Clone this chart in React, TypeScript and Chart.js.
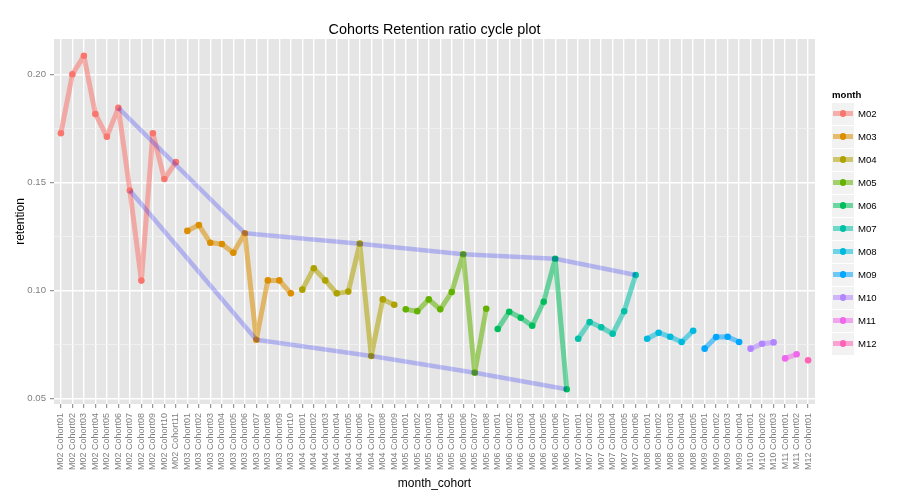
import React, { useEffect, useRef } from "react";
import { Chart, registerables } from "chart.js";

Chart.register(...registerables);

const months = ["M02", "M03", "M04", "M05", "M06", "M07", "M08", "M09", "M10", "M11", "M12"];
const cohorts = [
  "Cohort01", "Cohort02", "Cohort03", "Cohort04", "Cohort05", "Cohort06",
  "Cohort07", "Cohort08", "Cohort09", "Cohort10", "Cohort11",
];

// retention per month, one value per cohort
const m02 = [0.1727, 0.2, 0.2085, 0.1816, 0.1711, 0.1844, 0.1462, 0.1045, 0.1727, 0.1515, 0.1593];
const m03 = [0.1275, 0.1302, 0.122, 0.1214, 0.1174, 0.1264, 0.0771, 0.1046, 0.1046, 0.0986];
const m04 = [0.1003, 0.1102, 0.1046, 0.0986, 0.0994, 0.1216, 0.0696, 0.0958, 0.0933];
const m05 = [0.0912, 0.0903, 0.0958, 0.0912, 0.0992, 0.1167, 0.0619, 0.0915];
const m06 = [0.0821, 0.0901, 0.0873, 0.0836, 0.0947, 0.1146, 0.0542];
const m07 = [0.0776, 0.0853, 0.0829, 0.0799, 0.0903, 0.1071];
const m08 = [0.0776, 0.0804, 0.0785, 0.0761, 0.0813];
const m09 = [0.073, 0.0784, 0.0785, 0.0761];
const m10 = [0.073, 0.0753, 0.0759];
const m11 = [0.0685, 0.0704];
const m12 = [0.0676];

const series = [m02, m03, m04, m05, m06, m07, m08, m09, m10, m11, m12];
const colors = [
  "#F8766D", "#DB8E00", "#AEA200", "#64B200", "#00BD5C", "#00C1A7",
  "#00BADE", "#00A6FF", "#B385FF", "#EF67EB", "#FF63B6",
];
const cycleCohorts = ["Cohort06", "Cohort07"];
const yMajor = [0.05, 0.1, 0.15, 0.2];

const FONT = "'Liberation Sans', Arial, Helvetica, sans-serif";

// x labels built from months x cohorts
const labels: string[] = [];
const starts: number[] = [];
series.forEach((s, i) => {
  starts.push(labels.length);
  s.forEach((_, j) => labels.push(`${months[i]} ${cohorts[j]}`));
});

const rgba = (hex: string, a: number) => {
  const n = parseInt(hex.slice(1), 16);
  return `rgba(${(n >> 16) & 255},${(n >> 8) & 255},${n & 255},${a})`;
};

const isMajor = (v: number) => yMajor.some((t) => Math.abs(t - v) < 1e-6);

const panelBg = {
  id: "panelBg",
  beforeDraw(chart: any) {
    const { ctx, chartArea } = chart;
    ctx.save();
    ctx.fillStyle = "#E5E5E5";
    ctx.fillRect(chartArea.left, chartArea.top, chartArea.width, chartArea.height);
    ctx.restore();
  },
};

const App: React.FC = () => {
  const chartRef = useRef<HTMLCanvasElement>(null);

  useEffect(() => {
    if (!chartRef.current) return;
    const ctx = chartRef.current.getContext("2d");
    if (!ctx) return;

    const monthSets = series.map((s, i) => ({
      label: months[i],
      data: s.map((v, j) => ({ x: starts[i] + j, y: v })),
      borderColor: rgba(colors[i], 0.55),
      borderWidth: 5,
      borderJoinStyle: "round",
      borderCapStyle: "round",
      pointRadius: 3.3,
      pointBackgroundColor: colors[i],
      pointBorderWidth: 0,
      tension: 0,
      order: 1,
    }));

    const cycleSets = cycleCohorts.map((c) => {
      const k = cohorts.indexOf(c);
      const pts = series.flatMap((s, i) => (s.length > k ? [{ x: starts[i] + k, y: s[k] }] : []));
      return {
        label: c,
        data: pts,
        borderColor: "rgba(0,0,255,0.22)",
        borderWidth: 4.5,
        borderJoinStyle: "round",
        borderCapStyle: "butt",
        pointRadius: 0,
        tension: 0,
        order: 0,
      };
    });

    const myChart = new Chart(ctx, {
      type: "line",
      data: { datasets: [...monthSets, ...cycleSets] as any },
      plugins: [panelBg],
      options: {
        animation: false,
        responsive: true,
        maintainAspectRatio: false,
        events: [],
        layout: { padding: { top: 0, left: 0, right: 97, bottom: 0 } },
        plugins: {
          legend: { display: false },
          tooltip: { enabled: false },
          title: {
            display: true,
            text: "Cohorts Retention ratio cycle plot",
            fullSize: false,
            color: "#000",
            font: { family: FONT, size: 14.4, weight: "normal" },
            padding: { top: 21.4, bottom: 0.3 },
          },
        },
        scales: {
          x: {
            type: "linear",
            min: -0.6,
            max: 65.6,
            afterFit: (scale: any) => {
              scale.height = 98;
            },
            ticks: {
              stepSize: 1,
              includeBounds: false,
              autoSkip: false,
              minRotation: 90,
              maxRotation: 90,
              padding: 5,
              color: "#7F7F7F",
              font: { family: FONT, size: 9 },
              callback: (v: any) => labels[Math.round(Number(v))] ?? "",
            },
            grid: {
              color: "#FFFFFF",
              lineWidth: 1.4,
              tickLength: 4,
              tickColor: "#7F7F7F",
              tickWidth: 1,
            },
            border: { display: false },
            title: {
              display: true,
              text: "month_cohort",
              color: "#000",
              font: { family: FONT, size: 12 },
              padding: { top: 0, bottom: 11 },
            },
          },
          y: {
            type: "linear",
            min: 0.0474,
            max: 0.2163,
            afterFit: (scale: any) => {
              scale.width = 54;
            },
            ticks: {
              stepSize: 0.025,
              includeBounds: false,
              padding: 4,
              color: "#7F7F7F",
              font: { family: FONT, size: 9.6 },
              callback: (v: any) => (isMajor(Number(v)) ? Number(v).toFixed(2) : ""),
            },
            grid: {
              color: (c: any) => (c.tick && isMajor(c.tick.value) ? "#FFFFFF" : "#F2F2F2"),
              lineWidth: (c: any) => (c.tick && isMajor(c.tick.value) ? 1.4 : 0.8),
              tickLength: 4,
              tickColor: (c: any) => (c.tick && isMajor(c.tick.value) ? "#7F7F7F" : "rgba(0,0,0,0)"),
              tickWidth: 1,
            },
            border: { display: false },
            title: {
              display: true,
              text: "retention",
              color: "#000",
              font: { family: FONT, size: 12 },
              padding: { top: 13, bottom: 0 },
            },
          },
        },
      } as any,
    });

    return () => {
      myChart.destroy();
    };
  }, []);

  return (
    <div style={{ position: "fixed", left: 0, top: 0, width: 912, height: 502, background: "#fff" }}>
      <canvas ref={chartRef} />
      <div style={{ position: "absolute", left: 832, top: 86.5, fontFamily: FONT }}>
        <div style={{ fontSize: 9.6, fontWeight: "bold", lineHeight: "16px", height: 16 }}>month</div>
        {months.map((m, i) => (
          <div key={m} style={{ display: "flex", alignItems: "center", height: 22, marginBottom: 1 }}>
            <div style={{ position: "relative", width: 22, height: 22, background: "#F2F2F2" }}>
              <div
                style={{
                  position: "absolute",
                  left: 1,
                  right: 1,
                  top: 8.5,
                  height: 5,
                  background: rgba(colors[i], 0.55),
                }}
              />
              <div
                style={{
                  position: "absolute",
                  left: 7.7,
                  top: 7.7,
                  width: 6.6,
                  height: 6.6,
                  borderRadius: "50%",
                  background: colors[i],
                }}
              />
            </div>
            <span style={{ marginLeft: 4, fontSize: 9.6, color: "#000" }}>{m}</span>
          </div>
        ))}
      </div>
    </div>
  );
};

export default App;
